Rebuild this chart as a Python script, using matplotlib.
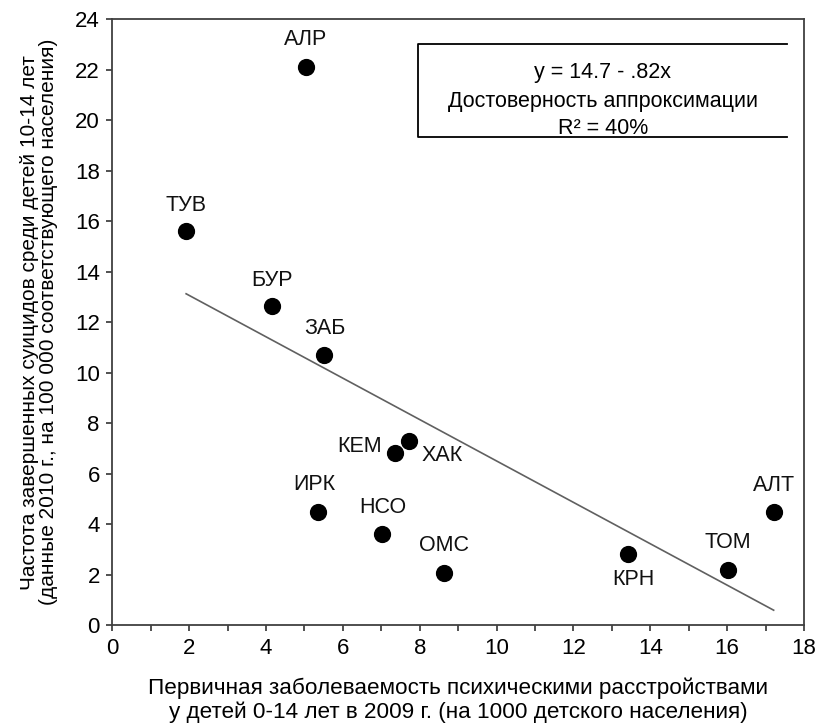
import numpy as np
import matplotlib
matplotlib.use('Agg')
import matplotlib.pyplot as plt
from matplotlib.ticker import MultipleLocator

plt.rcParams['font.family'] = ['Liberation Sans', 'DejaVu Sans']

# regions
regions = ['АЛР', 'ТУВ', 'БУР', 'ЗАБ', 'КЕМ', 'ХАК', 'ИРК', 'НСО', 'ОМС', 'КРН', 'ТОМ', 'АЛТ']
# primary morbidity, 2009 (per 1000 children)
morbidity = [5.04, 1.92, 4.15, 5.52, 7.35, 7.72, 5.34, 7.03, 8.63, 13.42, 16.03, 17.21]
# suicide rate 10-14, 2010 (per 100 000)
suicides = [22.1, 15.6, 12.64, 10.7, 6.8, 7.3, 4.49, 3.6, 2.07, 2.81, 2.2, 4.49]

# regression from the chart
intercept = 14.7
slope = -0.82

# label offsets in pixels (dx, dy)
offsets = {
    'АЛР': (0, 28), 'ТУВ': (0, 26), 'БУР': (0, 26), 'ЗАБ': (0, 26),
    'КЕМ': (-35, 7), 'ХАК': (33, -15), 'ИРК': (-3, 27), 'НСО': (0, 27),
    'ОМС': (0, 27), 'КРН': (5, -25), 'ТОМ': (0, 27), 'АЛТ': (0, 26),
}

fig = plt.figure(figsize=(8.2, 7.24), dpi=100)
ax = fig.add_axes([0.137, 0.1367, 0.8435, 0.8366])

# trend line
xs = np.array([min(morbidity), max(morbidity)])
ax.plot(xs, intercept + slope * xs, color='#606060', lw=1.2, zorder=2)

ax.scatter(morbidity, suicides, s=130, color='black', zorder=3)

for name, x, y in zip(regions, morbidity, suicides):
    dx, dy = offsets[name]
    ax.annotate(name, (x, y), xytext=(dx, dy), textcoords='offset pixels',
                ha='center', va='center', fontsize=15.5, color='#111111')

ax.set_xlim(0, 18)
ax.set_ylim(0, 24)
ax.xaxis.set_major_locator(MultipleLocator(2))
ax.xaxis.set_minor_locator(MultipleLocator(1))
ax.yaxis.set_major_locator(MultipleLocator(2))
ax.tick_params(which='both', direction='out', length=4, width=1.2, color='#333333',
               labelsize=16, pad=5)

for sp in ax.spines.values():
    sp.set_color('#404040')
    sp.set_linewidth(1.3)

ax.set_xlabel('Первичная заболеваемость психическими расстройствами\n'
              'у детей 0-14 лет в 2009 г. (на 1000 детского населения)',
              fontsize=16.2, labelpad=14, linespacing=1.1)
ax.set_ylabel('Частота завершенных суицидов среди детей 10-14 лет\n'
              '(данные 2010 г., на 100 000 соответствующего населения)',
              fontsize=15, labelpad=12, linespacing=1.05)

# equation box (left, top and bottom borders)
bx0, bx1 = 0.4425, 0.9755
by0, by1 = 0.8065, 0.9593
ax.plot([bx1, bx0, bx0, bx1], [by1, by1, by0, by0], transform=ax.transAxes,
        color='black', lw=1.3, clip_on=False, zorder=4)
cx = (bx0 + bx1) / 2
ax.text(cx, 0.913, 'y = 14.7 - .82x', transform=ax.transAxes, ha='center', va='center', fontsize=15.5)
ax.text(cx, 0.865, 'Достоверность аппроксимации', transform=ax.transAxes, ha='center', va='center', fontsize=15.5)
ax.text(cx, 0.820, 'R² = 40%', transform=ax.transAxes, ha='center', va='center', fontsize=15.5)

fig.savefig('out.png', dpi=100)
